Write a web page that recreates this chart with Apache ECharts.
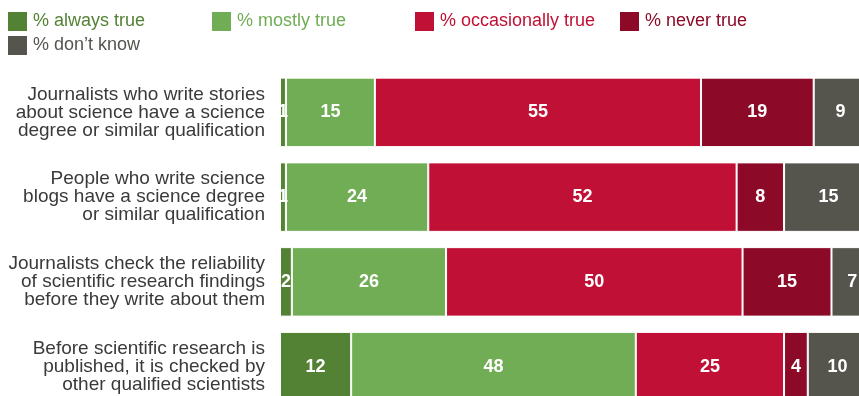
<!DOCTYPE html>
<html><head><meta charset="utf-8">
<script src="https://cdn.jsdelivr.net/npm/echarts@6/dist/echarts.min.js"></script>
<style>html,body{margin:0;padding:0;background:#fff}#c{width:859px;height:396px}</style>
</head><body><div id="c"></div>
<script>
var categories = [
  "Journalists who write stories\nabout science have a science\ndegree or similar qualification",
  "People who write science\nblogs have a science degree\nor similar qualification",
  "Journalists check the reliability\nof scientific research findings\nbefore they write about them",
  "Before scientific research is\npublished, it is checked by\nother qualified scientists"
];
var seriesNames = ["% always true", "% mostly true", "% occasionally true", "% never true", "% don\u2019t know"];
var alwaysTrue = [1, 1, 2, 12];
var mostlyTrue = [15, 24, 26, 48];
var occasionallyTrue = [55, 52, 50, 25];
var neverTrue = [19, 8, 15, 4];
var dontKnow = [9, 15, 7, 10];
var colors = ["#548235", "#70AD55", "#C01035", "#8C0A27", "#55554D"];
var values = [alwaysTrue, mostlyTrue, occasionallyTrue, neverTrue, dontKnow];

var legendLeft = [6, 210, 413, 618, 6];
var legendTop = [10, 10, 10, 10, 34];
var font = "Liberation Sans, Arial, sans-serif";

var legends = seriesNames.map(function (n, i) {
  return {
    data: [n], left: legendLeft[i], top: legendTop[i], padding: 0,
    itemWidth: 21, itemHeight: 21, itemGap: 8, icon: 'rect',
    textStyle: { color: colors[i], fontSize: 18, fontFamily: font },
    selectedMode: false
  };
});

var series = seriesNames.map(function (n, i) {
  return {
    name: n, type: 'bar', stack: 'all',
    data: values[i],
    barCategoryGap: '18%',
    itemStyle: { color: colors[i], borderColor: '#fff', borderWidth: 1 },
    label: {
      show: true, position: 'inside', color: '#fff', fontWeight: 'bold',
      fontSize: 18, fontFamily: font
    },
    emphasis: { disabled: true }
  };
});

var chart = echarts.init(document.getElementById('c'));
chart.setOption({
  animation: false,
  legend: legends,
  grid: { left: 280, width: 593, top: 70, height: 339, containLabel: false, outerBoundsMode: 'none' },
  xAxis: { type: 'value', min: 0, max: 100, show: false },
  yAxis: {
    type: 'category', data: categories, inverse: true,
    axisLine: { show: false }, axisTick: { show: false },
    axisLabel: { color: '#3a3a3a', fontSize: 19, fontFamily: font, lineHeight: 18, align: 'right', margin: 15 }
  },
  series: series
});
</script></body></html>
